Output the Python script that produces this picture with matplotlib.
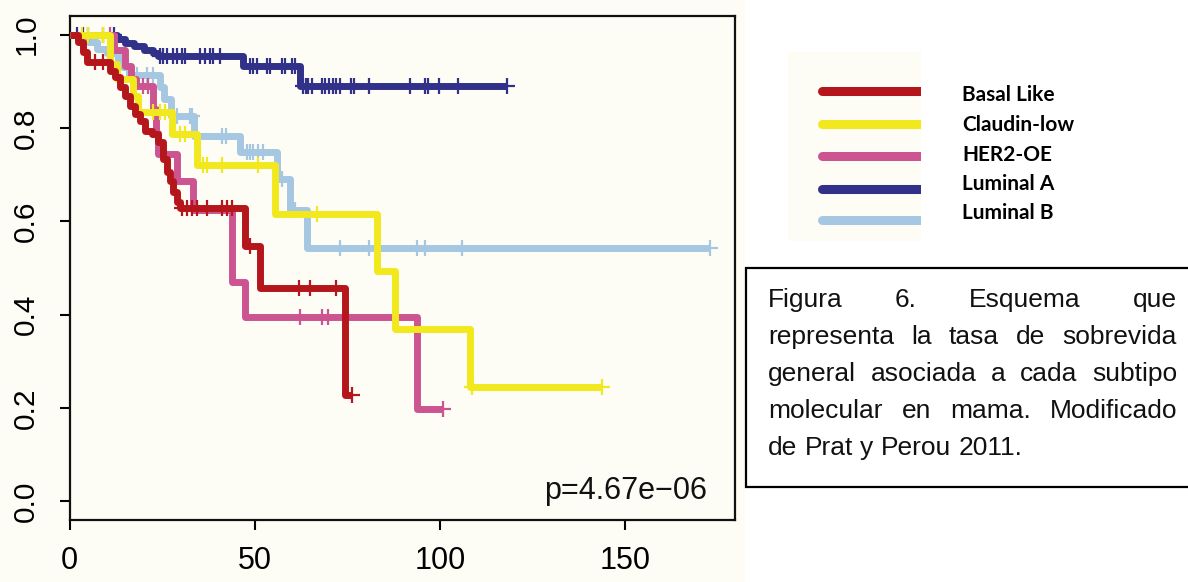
import numpy as np
import matplotlib
matplotlib.use('Agg')
import matplotlib.pyplot as plt
from matplotlib.patches import Rectangle

plt.rcParams['font.family'] = ['Liberation Sans', 'DejaVu Sans']

# survival curves: step times, survival after each step, last follow-up, censored times
subtypes = ['Basal Like', 'Claudin-low', 'HER2-OE', 'Luminal A', 'Luminal B']
colors = ['#b5161c', '#f2e81e', '#cc5490', '#31318a', '#a6c7e2']

basal_times = [0, 2.3, 3.6, 4.7, 10.9, 12.3, 13.6, 15, 16.3, 17.7, 19, 20.4, 22.3, 23.9,
               25.2, 26.3, 27.1, 28, 29, 29.8, 47.3, 51.4, 74.3]
basal_surv = [1.0, 0.985, 0.963, 0.942, 0.923, 0.91, 0.888, 0.869, 0.847, 0.83, 0.815, 0.794,
              0.787, 0.77, 0.733, 0.705, 0.686, 0.662, 0.641, 0.628, 0.548, 0.457, 0.228]
basal_end = 76.2
basal_cens = [6.9, 9.0, 30.4, 31.7, 33, 34.4, 37.1, 41.2, 42.5, 43.9, 48.7, 62, 64.9, 71.9, 76.2]

claudin_times = [0, 10.9, 12.8, 17.2, 18.5, 27.6, 34.3, 55.4, 83, 87.8, 108]
claudin_surv = [1.0, 0.938, 0.905, 0.869, 0.835, 0.788, 0.72, 0.615, 0.493, 0.37, 0.245]
claudin_end = 143.7
claudin_cens = [3.5, 5, 9, 22.6, 24.4, 25.8, 29.8, 31.2, 36, 37.2, 41.2, 50.9, 66.8, 108.6, 143.7]

her2_times = [0, 12, 15, 16.5, 18, 22.6, 23.3, 24, 29, 33.4, 43.9, 47.4, 93.8]
her2_surv = [1.0, 0.967, 0.933, 0.905, 0.889, 0.84, 0.79, 0.744, 0.686, 0.625, 0.47, 0.394, 0.197]
her2_end = 100.8
her2_cens = [11, 19.9, 21.2, 62.2, 68.1, 69.8, 100.8]

luma_times = [0, 12.8, 15, 17.5, 20, 22.5, 24, 46.8, 62.2]
luma_surv = [1.0, 0.99, 0.982, 0.975, 0.968, 0.96, 0.955, 0.932, 0.89]
luma_end = 118
luma_cens = [2, 3.6, 5, 9, 12, 24.4, 25.2, 26.3, 27.9, 29, 30.4, 31.2, 35.2, 36.6, 37.9,
             38.7, 40.6, 48.7, 49.5, 50.6, 53.3, 54.1, 57.4, 58.2, 60.1, 60.9, 63, 63.8,
             64.4, 65.5, 68.2, 69, 70, 71.1, 71.9, 73, 76, 76.8, 80.8, 91.9, 96, 96.8,
             99.7, 104.9, 118]

lumb_times = [0, 5, 7.5, 10, 13, 14.5, 16, 24.4, 25.5, 27.5, 33.5, 46, 56, 59.5, 64]
lumb_surv = [1.0, 0.985, 0.97, 0.96, 0.945, 0.93, 0.914, 0.888, 0.862, 0.826, 0.783, 0.748,
             0.69, 0.625, 0.543]
lumb_end = 172.8
lumb_cens = [18.2, 20.9, 22.6, 29, 32.5, 33, 41.2, 42.2, 48, 48.7, 49.5, 50.9, 52.2, 57.4,
             60.8, 73, 80.8, 93.8, 96, 106, 172.8]

curves = [
    (basal_times, basal_surv, basal_end, basal_cens),
    (claudin_times, claudin_surv, claudin_end, claudin_cens),
    (her2_times, her2_surv, her2_end, her2_cens),
    (luma_times, luma_surv, luma_end, luma_cens),
    (lumb_times, lumb_surv, lumb_end, lumb_cens),
]
zorders = [6, 5, 4, 3, 2]

p_text = 'p=4.67e\u221206'
caption_lines = ['Figura 6. Esquema que',
                 'representa la tasa de sobrevida',
                 'general asociada a cada subtipo',
                 'molecular en mama. Modificado',
                 'de Prat y Perou 2011.']

cream = '#fdfdf6'
W, H = 1188, 582

fig = plt.figure(figsize=(W / 100, H / 100), dpi=100)
fig.patch.set_facecolor('white')
fig.patches.append(Rectangle((0, 0), 745 / W, 1, transform=fig.transFigure,
                             facecolor=cream, edgecolor='none', zorder=-1))

ax = fig.add_axes([69.5 / W, 62 / H, 665.5 / W, 504 / H])
ax.set_facecolor(cream)

for (t, s, end, cens), col, z in zip(curves, colors, zorders):
    t = np.array(t, dtype=float)
    s = np.array(s, dtype=float)
    x = np.append(t, end)
    y = np.append(s, s[-1])
    ax.step(x, y, where='post', color=col, lw=5, zorder=z,
            solid_joinstyle='round', solid_capstyle='butt')
    c = np.array(cens, dtype=float)
    cy = s[np.searchsorted(t, c, side='right') - 1]
    ax.plot(c, cy, ls='none', marker='+', ms=11, mew=1.6, color=col, zorder=z)

ax.set_xlim(0, 179.6)
ax.set_ylim(-0.04, 1.04)
ax.set_xticks([0, 50, 100, 150])
ax.set_xticklabels(['0', '50', '100', '150'], fontsize=22)
ax.set_yticks([0, 0.2, 0.4, 0.6, 0.8, 1.0])
ax.set_yticklabels(['0.0', '0.2', '0.4', '0.6', '0.8', '1.0'], fontsize=21.5,
                   rotation=90, va='center')
ax.tick_params(axis='both', direction='out', length=7, width=1.5, color='black')
ax.tick_params(axis='x', pad=12)
ax.tick_params(axis='y', pad=14)
for sp in ax.spines.values():
    sp.set_linewidth(1.6)
    sp.set_color('#111111')

ax.text(172, 0.004, p_text, ha='right', va='baseline', fontsize=22, color='#111111')

# overlay in pixel units for legend and caption
ov = fig.add_axes([0, 0, 1, 1])
ov.set_xlim(0, W)
ov.set_ylim(H, 0)
ov.axis('off')
ov.patch.set_alpha(0)

leg_rect = Rectangle((788, 52), 133, 189, facecolor=cream, edgecolor='none')
ov.add_patch(leg_rect)
leg_line_y = [91, 124, 156, 189, 220]
leg_text_y = [95, 125, 155, 184, 213]
for name, col, ly, ty in zip(subtypes, colors, leg_line_y, leg_text_y):
    ln, = ov.plot([822, 940], [ly, ly], color=col, lw=6.5, solid_capstyle='round')
    ln.set_clip_path(leg_rect)
    ov.text(962, ty, name, fontsize=15, fontweight='bold', family=['Lato', 'DejaVu Sans'],
            va='center', ha='left', color='black')

ov.add_patch(Rectangle((746, 268), 470, 219, facecolor='white', edgecolor='black',
                       lw=1.6, clip_on=False))

renderer = fig.canvas.get_renderer()
x_left, x_right = 768, 1177
line_y = [300, 337, 374, 411, 448]
cap_size = 19
for i, (line, ly) in enumerate(zip(caption_lines, line_y)):
    words = line.split()
    texts = [ov.text(0, ly, w, fontsize=cap_size, va='center', ha='left', color='#111111')
             for w in words]
    widths = [tx.get_window_extent(renderer=renderer).width for tx in texts]
    if i < len(caption_lines) - 1 and len(words) > 1:
        gap = (x_right - x_left - sum(widths)) / (len(words) - 1)
    else:
        sp = ov.text(0, 0, 'a a', fontsize=cap_size)
        aa = ov.text(0, 0, 'aa', fontsize=cap_size)
        gap = sp.get_window_extent(renderer=renderer).width - aa.get_window_extent(renderer=renderer).width
        sp.remove()
        aa.remove()
    xpos = x_left
    for tx, w in zip(texts, widths):
        tx.set_x(xpos)
        xpos += w + gap

fig.savefig('out.png', dpi=100, facecolor=fig.get_facecolor())
